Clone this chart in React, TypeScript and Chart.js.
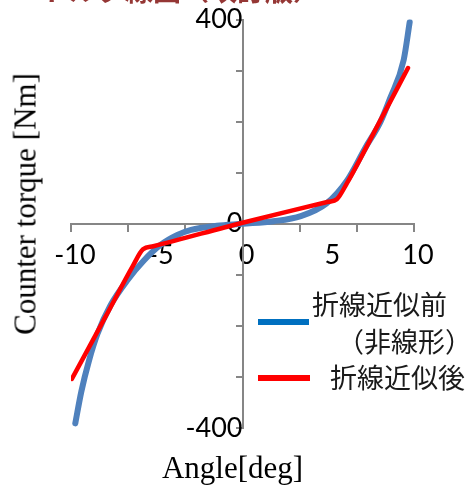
import React, { useEffect, useRef } from 'react';
import { Chart, registerables } from 'chart.js';

Chart.register(...registerables);

// ---- data ----
const blueX = [-9.75, -9.4, -8.95, -8.45, -7.7, -6.7, -5.75, -4.8, -3.8, -3.0, -1.5, 0, 1.8, 3.4, 4.9, 6.1, 7.15, 8.05, 8.6, 9.4, 9.75];
const blueY = [-391, -329, -268, -215, -160, -110, -72, -42, -22, -12, -4, 0, 5, 15, 40, 85, 148, 200, 245, 321, 395];

const redX = [-9.95, -8.0, -6.4, -5.8, -5.2, 0, 5.0, 5.5, 6.1, 8.0, 9.65];
const redY = [-304, -183, -83, -50, -44, 2, 43, 48, 80, 200, 305];

const xMin = -10;
const xMax = 10;
const yMin = -400;
const yMax = 400;
const xLabelStep = 5;
const xTickMarkStep = 10 / 3;
const yTickStep = 100;
const yLabelValues = [-400, 0, 400];

const seriesNames = ['折線近似前', '（非線形）', '折線近似後'];
const yTitle = 'Counter torque [Nm]';
const xTitle = 'Angle[deg]';
const headerText = 'トルク線図（改訂版）';

const W = 469;
const H = 485;

export default function App() {
  const ref = useRef<HTMLCanvasElement>(null);

  useEffect(() => {
    const axisColor = '#868686';
    const xTickFont = { family: 'Lato', size: 27 };
    const yTickFont = { family: 'Lato', size: 27, lineHeight: 0.7 };
    const chart = new Chart(ref.current as HTMLCanvasElement, {
      type: 'scatter',
      data: {
        datasets: [
          {
            label: seriesNames[2],
            data: redX.map((x, i) => ({ x, y: redY[i] })),
            showLine: true,
            borderColor: '#FF0000',
            backgroundColor: '#FF0000',
            borderWidth: 4.5,
            pointRadius: 0,
            cubicInterpolationMode: 'monotone',
            borderCapStyle: 'round',
            borderJoinStyle: 'round',
            order: 0,
          },
          {
            label: seriesNames[0],
            data: blueX.map((x, i) => ({ x, y: blueY[i] })),
            showLine: true,
            borderColor: '#4F81BD',
            backgroundColor: '#4F81BD',
            borderWidth: 6,
            pointRadius: 0,
            cubicInterpolationMode: 'monotone',
            borderCapStyle: 'round',
            borderJoinStyle: 'round',
            order: 1,
          },
        ],
      },
      options: {
        responsive: false,
        animation: false,
        events: [],
        layout: { autoPadding: false, padding: { left: 71, right: 55, top: 19.5, bottom: 57 } },
        plugins: { legend: { display: false }, tooltip: { enabled: false }, title: { display: false } },
        scales: {
          x: {
            type: 'linear',
            min: xMin,
            max: xMax,
            position: { y: 0 },
            ticks: { display: false, stepSize: xTickMarkStep },
            grid: { drawOnChartArea: false, drawTicks: true, tickLength: 7, color: axisColor, lineWidth: 2 },
            border: { color: axisColor, width: 2 },
          },
          xl: {
            type: 'linear',
            axis: 'x',
            min: xMin,
            max: xMax,
            position: { y: 0 },
            ticks: { stepSize: xLabelStep, padding: 15, labelOffset: 4, font: xTickFont, color: '#000', maxRotation: 0, autoSkip: false },
            grid: { display: false, drawTicks: false },
            border: { display: false },
          },
          y: {
            type: 'linear',
            min: yMin,
            max: yMax,
            position: { x: 0 },
            ticks: {
              stepSize: yTickStep,
              padding: 10,
              font: yTickFont,
              color: '#000',
              autoSkip: false,
              callback: (v: any) => (yLabelValues.includes(Number(v)) ? String(v) : ''),
            },
            grid: { drawOnChartArea: false, drawTicks: true, tickLength: 6, color: axisColor, lineWidth: 2 },
            border: { color: axisColor, width: 2 },
          },
        },
      } as any,
    });
    return () => chart.destroy();
  }, []);

  const cjk = '"Noto Sans CJK JP", "Noto Sans CJK SC", sans-serif';
  const serif = '"Liberation Serif", "DejaVu Serif", serif';
  const legText: React.CSSProperties = {
    position: 'absolute',
    fontFamily: cjk,
    fontSize: 27,
    lineHeight: '27px',
    whiteSpace: 'nowrap',
    color: '#1a1a1a',
  };

  return (
    <div style={{ position: 'absolute', left: 0, top: 0, width: W, height: H, overflow: 'hidden', background: '#fff' }}>
      <canvas ref={ref} width={W} height={H} style={{ position: 'absolute', left: 0, top: 0, width: W, height: H }} />
      <div
        style={{
          position: 'absolute', left: 41, top: -25, fontFamily: cjk, fontWeight: 700, fontSize: 28,
          lineHeight: '28px', color: '#953735', whiteSpace: 'nowrap',
        }}
      >
        {headerText}
      </div>
      <div
        style={{
          position: 'absolute', left: 24.5, top: 203.5, fontFamily: serif, fontSize: 31, lineHeight: '31px',
          whiteSpace: 'nowrap', color: '#000', transform: 'translate(-50%, -50%) rotate(-90deg)',
        }}
      >
        {yTitle}
      </div>
      <div
        style={{
          position: 'absolute', left: 232.5, top: 451.5, fontFamily: serif, fontSize: 31, lineHeight: '31px',
          whiteSpace: 'nowrap', color: '#000', transform: 'translateX(-50%)',
        }}
      >
        {xTitle}
      </div>
      <div style={{ position: 'absolute', left: 258, top: 319, width: 51, height: 6, background: '#0070C0' }} />
      <div style={{ ...legText, left: 312, top: 290 }}>{seriesNames[0]}</div>
      <div style={{ ...legText, left: 337, top: 327 }}>{seriesNames[1]}</div>
      <div style={{ position: 'absolute', left: 258, top: 375, width: 52, height: 6, background: '#FF0000' }} />
      <div style={{ ...legText, left: 330, top: 363 }}>{seriesNames[2]}</div>
    </div>
  );
}
